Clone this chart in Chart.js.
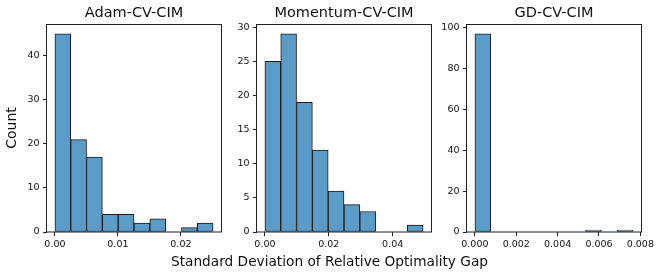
<!DOCTYPE html>
<html>
<head>
<meta charset="utf-8">
<script src="https://cdn.jsdelivr.net/npm/chart.js@4/dist/chart.umd.min.js"></script>
<style>
  html, body { margin: 0; padding: 0; background: #fff; }
  #wrap { position: relative; width: 664px; height: 276px; overflow: hidden; background: #fff; }
  .panel { position: absolute; top: 0; }
  #xlabel { position: absolute; left: 0; width: 659px; top: 252.5px; line-height: 16px; text-align: center;
            font-family: 'DejaVu Sans', sans-serif; font-size: 13.7px; color: #111; white-space: nowrap; }
</style>
</head>
<body>
<div id="wrap">
  <div class="panel" style="left:0px"><canvas id="c1" width="236" height="276"></canvas></div>
  <div class="panel" style="left:220px"><canvas id="c2" width="226" height="276"></canvas></div>
  <div class="panel" style="left:430px"><canvas id="c3" width="234" height="276"></canvas></div>
  <div id="xlabel">Standard Deviation of Relative Optimality Gap</div>
</div>
<script>
// ---- Data ----
const titles = ['Adam-CV-CIM', 'Momentum-CV-CIM', 'GD-CV-CIM'];
const yLabel = 'Count';

// bin edges (10 bins each)
const adamEdges = [0, 0.00251, 0.00502, 0.00753, 0.01004, 0.01255, 0.01507, 0.01758, 0.02009, 0.0226, 0.02511];
const momentumEdges = [0, 0.00495, 0.00991, 0.01486, 0.01981, 0.02477, 0.02972, 0.03467, 0.03962, 0.04458, 0.04953];
const gdEdges = [0, 0.000765, 0.00153, 0.002295, 0.00306, 0.003825, 0.00459, 0.005355, 0.00612, 0.006885, 0.00765];

// counts per bin
const adamCounts = [45, 21, 17, 4, 4, 2, 3, 0, 1, 2];
const momentumCounts = [25, 29, 19, 12, 6, 4, 3, 0, 0, 1];
const gdCounts = [97, 0, 0, 0, 0, 0, 0, 1, 0, 1];

// tick values and labels
const adamXTicks = [0, 0.01, 0.02];
const adamXLabels = ['0.00', '0.01', '0.02'];
const momentumXTicks = [0, 0.02, 0.04];
const momentumXLabels = ['0.00', '0.02', '0.04'];
const gdXTicks = [0, 0.002, 0.004, 0.006, 0.008];
const gdXLabels = ['0.000', '0.002', '0.004', '0.006', '0.008'];
const adamYTicks = [0, 10, 20, 30, 40];
const momentumYTicks = [0, 5, 10, 15, 20, 25, 30];
const gdYTicks = [0, 20, 40, 60, 80, 100];

// ---- Styling ----
const FONT = "'DejaVu Sans', sans-serif";
const TEXT = '#111';
const LINE = '#222';
const FILL = '#5a9bc8';
const EDGE = '#1c1c1c';

const boxPlugin = {
  id: 'box',
  afterDatasetsDraw(chart) {
    const a = chart.chartArea, ctx = chart.ctx;
    ctx.save();
    ctx.strokeStyle = LINE;
    ctx.lineWidth = 1;
    ctx.strokeRect(Math.round(a.left) - 0.5, Math.round(a.top) + 0.5,
                   Math.round(a.right) - Math.round(a.left) + 1, Math.round(a.bottom) - Math.round(a.top) - 0.5);
    ctx.restore();
  }
};

function makeChart(id, title, edges, counts, xTicks, xLabels, yTicks, yAxisWidth, padRight, showYTitle) {
  const data = counts.map((c, i) => ({ x: (edges[i] + edges[i + 1]) / 2, y: c }));
  const xmax = edges[edges.length - 1];
  const ymax = Math.max(...counts);
  new Chart(document.getElementById(id), {
    type: 'bar',
    data: {
      datasets: [{
        data: data,
        backgroundColor: FILL,
        borderColor: EDGE,
        borderWidth: 1,
        borderSkipped: false,
        barPercentage: 1,
        categoryPercentage: 1
      }]
    },
    options: {
      responsive: false,
      animation: false,
      devicePixelRatio: 1,
      layout: { padding: { left: 0, right: padRight, top: 0, bottom: 0 } },
      plugins: {
        legend: { display: false },
        tooltip: { enabled: false },
        title: {
          display: true, text: title, fullSize: false, color: TEXT,
          font: { family: FONT, size: 14.5, weight: 'normal', lineHeight: 1.2 },
          padding: { top: 4.5, bottom: 2.1 }
        }
      },
      scales: {
        x: {
          type: 'linear',
          offset: false,
          min: -0.05 * xmax,
          max: 1.05 * xmax,
          grid: { display: true, offset: false, drawOnChartArea: false, drawTicks: true, tickLength: 4, tickColor: LINE, tickWidth: 1 },
          border: { display: false },
          afterBuildTicks: (s) => { s.ticks = xTicks.map(v => ({ value: v })); },
          afterFit: (s) => { s.height = 44; },
          ticks: {
            autoSkip: false, maxRotation: 0, padding: 2.5, color: TEXT,
            font: { family: FONT, size: 9.5 },
            callback: (v, i) => xLabels[i]
          }
        },
        y: {
          type: 'linear',
          min: 0,
          max: 1.05 * ymax,
          grid: { display: true, drawOnChartArea: false, drawTicks: true, tickLength: 4, tickColor: LINE, tickWidth: 1 },
          border: { display: false },
          afterBuildTicks: (s) => { s.ticks = yTicks.map(v => ({ value: v })); },
          afterFit: (s) => { s.width = yAxisWidth; },
          title: {
            display: showYTitle, text: yLabel, color: TEXT,
            font: { family: FONT, size: 14, weight: 'normal', lineHeight: 1.2 },
            padding: { top: 4, bottom: 0 }
          },
          ticks: {
            autoSkip: false, padding: 3.5, color: TEXT,
            font: { family: FONT, size: 9.5 },
            callback: (v) => String(v)
          }
        }
      }
    },
    plugins: [boxPlugin]
  });
}

makeChart('c1', titles[0], adamEdges, adamCounts, adamXTicks, adamXLabels, adamYTicks, 47, 15, true);
makeChart('c2', titles[1], momentumEdges, momentumCounts, momentumXTicks, momentumXLabels, momentumYTicks, 37, 15, false);
makeChart('c3', titles[2], gdEdges, gdCounts, gdXTicks, gdXLabels, gdYTicks, 37, 23, false);
</script>
</body>
</html>
